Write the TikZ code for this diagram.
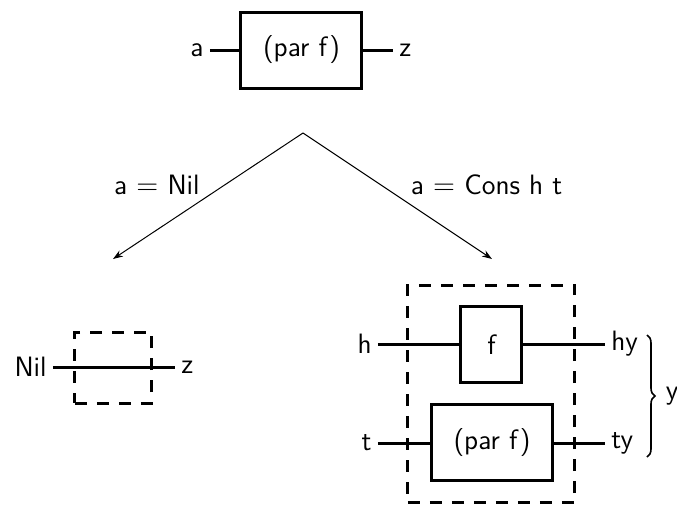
\documentclass[tikz,border=0pt]{standalone}
\usepackage{tikz}
\usetikzlibrary{
  arrows.meta,
  positioning,
  decorations.pathreplacing
}
\tikzset{
  funbox/.style={
    draw,
    line width=1.5pt,
    minimum width=60.5pt,
    minimum height=38pt,
    inner sep=0pt,
  },
  dashbox/.style={
    draw,
    line width=1.5pt,
    dash pattern=on 6pt off 5pt,
    inner sep=0pt,
  },
  wire/.style={
    line width=1.5pt,
  },
  arr/.style={
    -{Stealth[length=5pt, width=3.5pt]},
    line width=0.5pt,
  },
  lbl/.style={
    inner sep=3pt,
  },
}

\begin{document}
\begin{tikzpicture}[
  x=0.5pt, y=-0.5pt,
  font=\sffamily\fontsize{14}{17}\selectfont,
]
  \useasboundingbox (0,0) rectangle (677,505);

  % Top — the whole function
  \node[funbox] (parf) at (301.5,50) {(par f)};
  \node[lbl, anchor=east] (a) at (210,50) {a};
  \node[lbl, anchor=west] (z) at (393,50) {z};

  \draw[wire] (a.east) -- (parf.west);
  \draw[wire] (parf.east) -- (z.west);

  % Case split
  \coordinate (fork) at (303,133);
  \coordinate (nilend) at (113,259);
  \coordinate (consend) at (492,259);

  \draw[arr] (fork) -- node[lbl, pos=0.41, left=9.5pt] {a $=$ Nil} (nilend);
  \draw[arr] (fork) -- node[lbl, pos=0.41, right=12pt] {a $=$ Cons h t} (consend);

  % Nil case — wire straight through
  \node[dashbox, minimum width=38.5pt, minimum height=35.5pt] (nilbox) at (113.5,367.5) {};
  \node[lbl, anchor=east] (nil) at (53,367) {Nil};
  \node[lbl, anchor=west] (zl) at (175,367) {z};

  \draw[wire] (nil.east) -- (nil.east -| zl.west);

  % Cons case — f on the head, recursion on the tail
  \node[dashbox, minimum width=83.5pt, minimum height=108.5pt] (consbox) at (491.5,393.5) {};
  \node[funbox, minimum width=30.5pt] (fbox) at (491.5,344.5) {f};
  \node[funbox] (parft) at (492,442.5) {(par f)};

  \node[lbl, anchor=east] (h) at (378,344) {h};
  \node[lbl, anchor=west] (hy) at (605,344) {hy};
  \node[lbl, anchor=east] (t) at (378,443) {t};
  \node[lbl, anchor=west] (ty) at (605,443) {ty};

  \draw[wire] (h.east) -- (h.east -| fbox.west);
  \draw[wire] (fbox.east |- hy.west) -- (hy.west);
  \draw[wire] (t.east) -- (t.east -| parft.west);
  \draw[wire] (parft.east |- ty.west) -- (ty.west);

  % Result brace
  \coordinate (bracetop) at (647,335);
  \coordinate (bracebot) at (647,457);
  \draw[decorate, decoration={brace, amplitude=4pt}, line width=0.8pt]
    (bracetop) -- node[lbl, right=6pt] (y) {y} (bracebot);
\end{tikzpicture}
\end{document}
